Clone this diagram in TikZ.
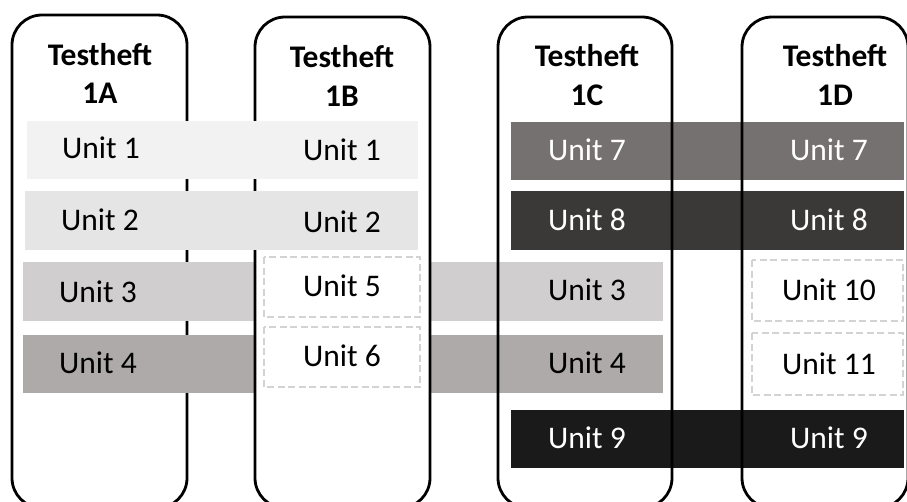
\documentclass[tikz,border=0pt]{standalone}
\usepackage{fontspec}
\setmainfont{Carlito}
\definecolor{cA}{HTML}{F2F2F2}
\definecolor{cB}{HTML}{E5E5E5}
\definecolor{cC}{HTML}{D0CECE}
\definecolor{cD}{HTML}{AEAAAA}
\definecolor{cE}{HTML}{767171}
\definecolor{cF}{HTML}{3B3838}
\definecolor{cG}{HTML}{1A1A1A}
\definecolor{dashc}{HTML}{D3D3D3}
\begin{document}
\begin{tikzpicture}[x=1pt,y=-1pt,
  col/.style={draw=black,line width=2.8pt,rounded corners=30pt},
  title/.style={font=\fontsize{31.5}{36}\selectfont\bfseries,anchor=base,inner sep=0pt},
  lbl/.style={font=\fontsize{31.5}{36}\selectfont,anchor=base,inner sep=0pt},
  wlbl/.style={lbl,text=white},
  dbox/.style={draw=dashc,fill=white,line width=2pt,dash pattern=on 7pt off 3.5pt}]
\clip (0,0) rectangle (907,501);
\fill[white] (0,0) rectangle (907,501);
% bands that pass behind columns 1B and 1C
\fill[cC] (23,262) rectangle (663,321);
\fill[cD] (23,335) rectangle (663,393);
\fill[white,rounded corners=30pt] (255,17) rectangle (430,508);
% right bands (under outlines)
\fill[cE] (511,122) rectangle (904,180);
\fill[cF] (511,191) rectangle (904,250);
\fill[cG] (511,410) rectangle (904,468);
% column outlines
\draw[col] (12,15) rectangle (187,508);
\draw[col] (255,17) rectangle (430,508);
\draw[col] (498,17) rectangle (672,508);
\draw[col] (742,17) rectangle (908,508);
% bands on top of outlines
\fill[cA] (27,121) rectangle (418,179);
\fill[cB] (25,191) rectangle (418,250);
\fill[cC] (23,262) rectangle (253.2,321);
\fill[cD] (23,335) rectangle (253.2,393);
% dashed boxes
\draw[dbox] (264,257) rectangle (420,317);
\draw[dbox] (264,327) rectangle (420,387);
\draw[dbox] (752,260) rectangle (903,321);
\draw[dbox] (752,333) rectangle (903,395);
% titles
\node[title] (tA1) at (100,65) {Testheft};
\node[title] (tA2) at (100,103) {1A};
\node[title] (tB1) at (342,67) {Testheft};
\node[title] (tB2) at (342,106) {1B};
\node[title] (tC1) at (587,66) {Testheft};
\node[title] (tC2) at (587,105) {1C};
\node[title] (tD1) at (835,66) {Testheft};
\node[title] (tD2) at (835,105) {1D};
% unit labels
\node[lbl] (a1) at (101,158) {Unit 1};
\node[lbl] (a2) at (100,230) {Unit 2};
\node[lbl] (a3) at (98,302) {Unit 3};
\node[lbl] (a4) at (98,373) {Unit 4};
\node[lbl] (b1) at (342,160) {Unit 1};
\node[lbl] (b2) at (342,232) {Unit 2};
\node[lbl] (b5) at (342,296) {Unit 5};
\node[lbl] (b6) at (342,366) {Unit 6};
\node[wlbl] (c7) at (587,160) {Unit 7};
\node[wlbl] (c8) at (587,230) {Unit 8};
\node[lbl] (c3) at (587,300) {Unit 3};
\node[lbl] (c4) at (587,373) {Unit 4};
\node[wlbl] (c9) at (587,448) {Unit 9};
\node[wlbl] (d7) at (829,160) {Unit 7};
\node[wlbl] (d8) at (829,230) {Unit 8};
\node[lbl] (d10) at (829,300) {Unit 10};
\node[lbl] (d11) at (829,374) {Unit 11};
\node[wlbl] (d9) at (829,448) {Unit 9};
\end{tikzpicture}
\end{document}
